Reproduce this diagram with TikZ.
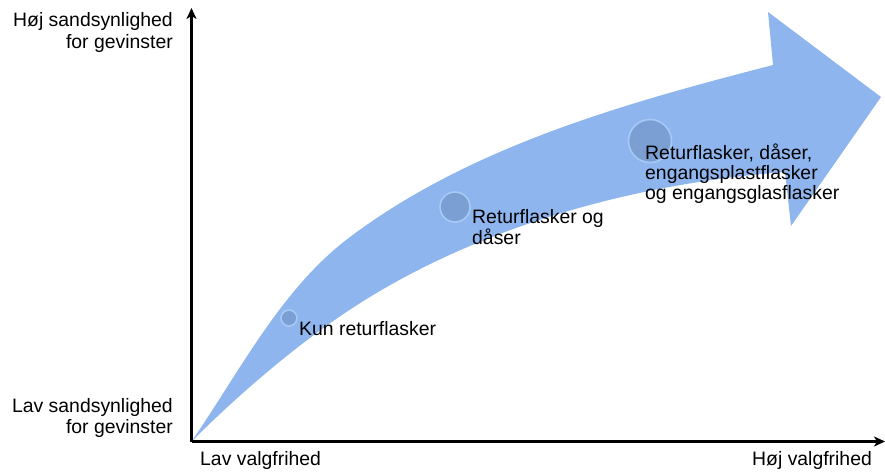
\documentclass[tikz,border=0pt]{standalone}
\usepackage{fontspec}
\setmainfont{Liberation Sans}
\usetikzlibrary{arrows.meta}
\definecolor{bandblue}{HTML}{8EB5EE}
\definecolor{dotfill}{HTML}{7B9FD2}
\definecolor{dotring}{HTML}{A8C9F6}
\tikzset{
  lbl/.style={inner sep=0pt, font=\fontsize{19.4}{21}\selectfont},
  lblin/.style={inner sep=0pt, font=\fontsize{19.4}{19.6}\selectfont},
  axis/.style={line width=2.4pt, -{Stealth[length=11pt,width=10pt,inset=3pt]}},
  dot/.style={circle, fill=dotfill, draw=dotring, line width=1.6pt, inner sep=0pt}
}
\begin{document}
\begin{tikzpicture}[x=1pt,y=-1pt]
\useasboundingbox (0,0) rectangle (885,471);
% curved growth arrow
\fill[bandblue]
  (191.5,441.5) .. controls (240.3,370.7) and (281.2,288.6) .. (350,237)
  .. controls (471.6,145.8) and (626,103) .. (773,65)
  -- (768,12) -- (881,97) -- (791,226) -- (785,172)
  .. controls (640,183) and (488,223.6) .. (365,300)
  .. controls (304.7,337.4) and (241.7,391.3) .. (191.5,441.5)
  -- cycle;
% axes
\coordinate (o) at (191.5,441.5);
\coordinate (ytop) at (191.5,8);
\coordinate (xend) at (885,441.5);
\draw[axis] (o) -- (ytop);
\draw[axis] (o) -- (xend);
% stage markers
\node[dot, minimum size=16pt] (d1) at (289,318) {};
\node[dot, minimum size=30pt] (d2) at (455,207) {};
\node[dot, minimum size=43pt] (d3) at (650,141) {};
% labels (multi-line nodes are placed by the baseline of their last line)
\node[lbl, anchor=base east, align=right] (yhi) at (173,48) {Høj sandsynlighed\\for gevinster};
\node[lbl, anchor=base east, align=right] (ylo) at (173,433) {Lav sandsynlighed\\for gevinster};
\node[lbl, anchor=base west] (xlo) at (200,465) {Lav valgfrihed};
\node[lbl, anchor=base west] (xhi) at (752,465) {Høj valgfrihed};
\node[lblin, anchor=base west] (t1) at (299,335) {Kun returflasker};
\node[lblin, anchor=base west, align=left] (t2) at (472,244) {Returflasker og\\dåser};
\node[lblin, anchor=base west, align=left] (t3) at (645,199) {Returflasker, dåser,\\engangsplastflasker\\og engangsglasflasker};
\end{tikzpicture}
\end{document}
